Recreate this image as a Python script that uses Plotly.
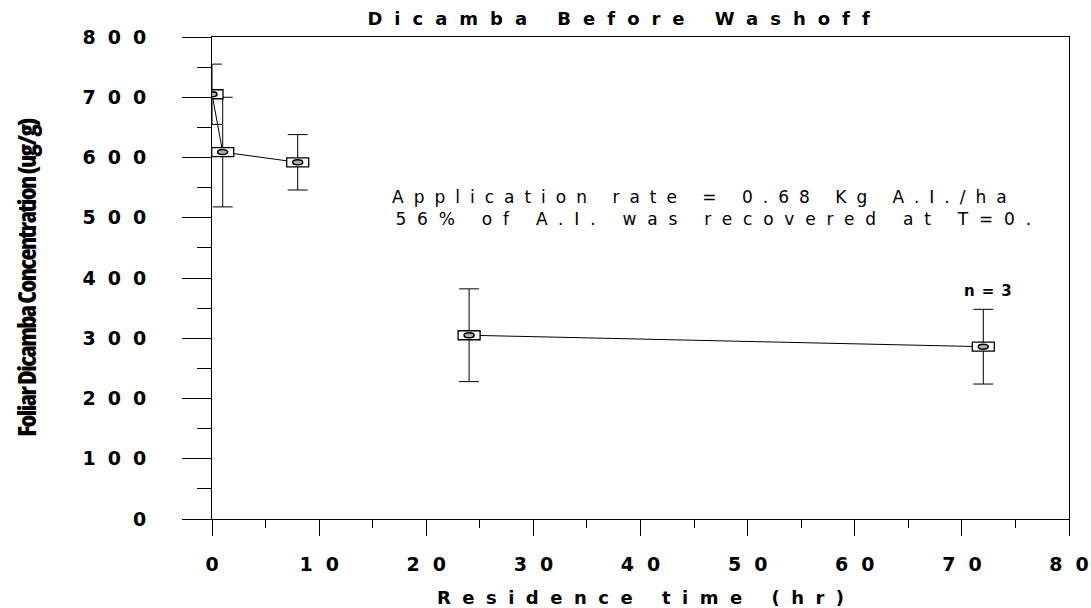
import plotly.graph_objects as go

# ---- data ----
time_hr = [0, 1, 8, 24, 72]
conc = [705, 609, 592, 305, 286]
conc_err = [50, 91, 46, 77, 62]
segment_id = [0, 0, 0, 1, 1]          # which points are joined by a line
x_ticks = [0, 10, 20, 30, 40, 50, 60, 70, 80]
y_ticks = [0, 100, 200, 300, 400, 500, 600, 700, 800]

title_text = "Dicamba Before Washoff"
x_title = "Residence time (hr)"
y_title = "Foliar Dicamba Concentration (ug/g)"
note_lines = ["Application rate = 0.68 Kg A.I./ha", "56% of A.I. was recovered at T=0."]
n_label = "n=3"
n_label_y = 378

WIDE = "DejaVu Sans, Liberation Sans, Arial, sans-serif"
COND = "Open Sans, Liberation Sans Narrow, DejaVu Sans, sans-serif"


def spaced(t, px):
    # letter-spacing on all but the last glyph (no trailing gap)
    if len(t) < 2:
        return t
    return f"<span style='letter-spacing:{px}px'>{t[:-1]}</span>{t[-1]}"


fig = go.Figure()

# connecting lines per segment
for seg in sorted(set(segment_id)):
    xs = [x for x, s in zip(time_hr, segment_id) if s == seg]
    ys = [y for y, s in zip(conc, segment_id) if s == seg]
    fig.add_trace(go.Scatter(x=xs, y=ys, mode="lines",
                             line=dict(color="black", width=1),
                             showlegend=False, hoverinfo="skip"))

# error bars
fig.add_trace(go.Scatter(
    x=time_hr, y=conc, mode="markers",
    marker=dict(size=1, color="rgba(0,0,0,0)"),
    error_y=dict(type="data", array=conc_err, visible=True,
                 color="black", thickness=1, width=10),
    showlegend=False))

# rectangular markers with inner ellipse (pixel-sized shapes anchored on data)
for x, y in zip(time_hr, conc):
    fig.add_shape(type="rect", xref="x", yref="y",
                  xsizemode="pixel", ysizemode="pixel",
                  xanchor=x, yanchor=y, x0=-11, x1=11, y0=-4.5, y1=4.5,
                  line=dict(color="black", width=1.3), fillcolor="white")
    fig.add_shape(type="circle", xref="x", yref="y",
                  xsizemode="pixel", ysizemode="pixel",
                  xanchor=x, yanchor=y, x0=-5, x1=5, y0=-2.5, y1=2.5,
                  line=dict(color="black", width=1.5), fillcolor="rgba(0,0,0,0.3)")

# note text
fig.add_annotation(x=0.2077, y=0.645, xref="paper", yref="paper",
                   xanchor="left", yanchor="middle",
                   text=spaced(note_lines[0], 10) + "<br>" + "\u2009" + spaced(note_lines[1], 10.8),
                   showarrow=False, align="left",
                   font=dict(family=WIDE, size=17, color="black"))

# n=3 label
fig.add_annotation(x=time_hr[-1], y=n_label_y, xref="x", yref="y", xshift=5,
                   text="<b>" + spaced(n_label, 7) + "</b>", showarrow=False,
                   font=dict(family=WIDE, size=15, color="black"))

fig.update_layout(
    width=1091, height=608,
    margin=dict(l=212, r=22, t=37, b=89, autoexpand=False),
    paper_bgcolor="white", plot_bgcolor="white",
    title=dict(text="<b>" + spaced(title_text, 12) + "</b>", x=0.567, xanchor="center",
               y=0.979, yanchor="top",
               font=dict(family=WIDE, size=18, color="black")),
    showlegend=False,
)

fig.update_xaxes(
    range=[0, 80], tickmode="array", tickvals=x_ticks, automargin=False,
    ticktext=["<b>" + spaced(str(v), 13) + "</b>" for v in x_ticks],
    ticks="outside", ticklen=16, tickwidth=1, tickcolor="black",
    ticklabelstandoff=12,
    minor=dict(dtick=5, ticks="outside", ticklen=8, tickcolor="black", tickwidth=1),
    showline=True, linecolor="black", linewidth=1, mirror=True,
    showgrid=False, zeroline=False,
    tickfont=dict(family=WIDE, size=19, color="black"),
    title=dict(text="<b>" + spaced(x_title, 11.5) + "</b>", standoff=17,
               font=dict(family=WIDE, size=18, color="black")),
)

fig.update_yaxes(
    range=[0, 800], tickmode="array", tickvals=y_ticks, automargin=False,
    ticktext=["<b>" + spaced(str(v), 12) + "</b>" for v in y_ticks],
    ticks="outside", ticklen=29, tickwidth=1, tickcolor="black",
    ticklabelstandoff=32,
    minor=dict(dtick=50, ticks="outside", ticklen=14, tickcolor="black", tickwidth=1),
    showline=True, linecolor="black", linewidth=1, mirror=True,
    showgrid=False, zeroline=False,
    tickfont=dict(family=WIDE, size=19, color="black"),
    title=dict(text="<span style='font-stretch:condensed;font-weight:800;letter-spacing:-1.6px'>"
               + y_title + "</span>", standoff=38,
               font=dict(family=COND, size=25, color="black")),
)

fig.write_html("out.html")
